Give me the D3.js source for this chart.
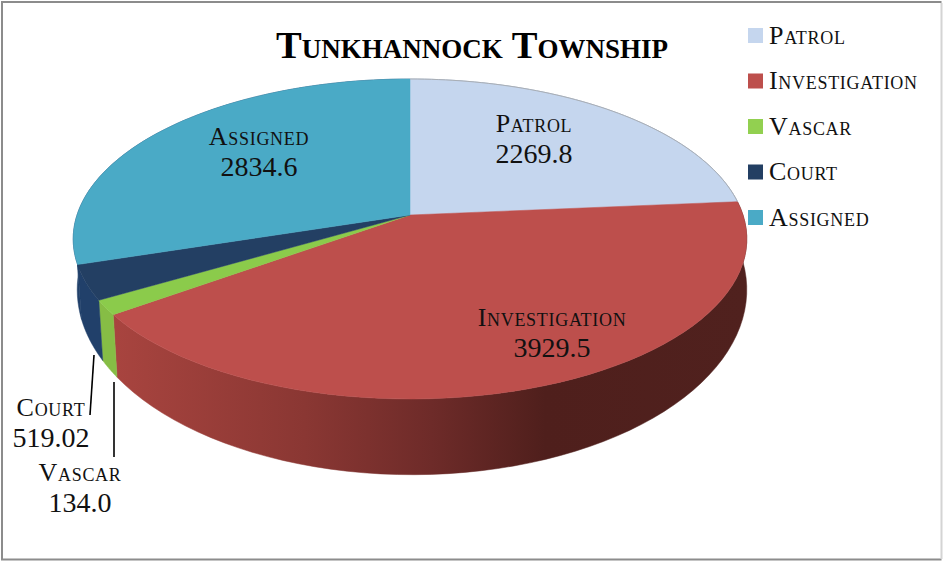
<!DOCTYPE html>
<html>
<head>
<meta charset="utf-8">
<script src="https://cdn.jsdelivr.net/npm/d3@7"></script>
<style>
  html, body { margin: 0; background: #fff; }
  text { font-family: "Liberation Serif", serif; font-variant: small-caps; fill: #111; }
</style>
</head>
<body>
<svg id="chart" width="943" height="561"></svg>
<script>
const title = "Tunkhannock Township";
const categories = ["Patrol", "Investigation", "Vascar", "Court", "Assigned"];
const valueLabels = ["2269.8", "3929.5", "134.0", "519.02", "2834.6"];
const values = valueLabels.map(Number);
const topColors = ["#c5d6ee", "#bd4f4c", "#8bcb4b", "#233f63", "#4aaac6"];
const legendColors = ["#c5d6ee", "#bd4f4c", "#92d050", "#233f63", "#4aaac6"];
const sideColors = ["#8f9cb0", "url(#redSide)", "#86bd45", "#21406a", "#21406a"];

// where the data labels sit: centre x, baseline of first line
const labelX = [534, 552, 80, 51, 259];
const labelY = [132, 326, 481, 416, 145];

const svg = d3.select("#chart");

const defs = svg.append("defs");
const grad = defs.append("linearGradient")
  .attr("id", "redSide")
  .attr("gradientUnits", "userSpaceOnUse")
  .attr("x1", 115).attr("x2", 748).attr("y1", 0).attr("y2", 0);
[[0, "#a8443f"], [0.3, "#8a3733"], [0.5, "#6e2b29"], [0.68, "#4f1f1c"], [1, "#50211e"]]
  .forEach(s => grad.append("stop").attr("offset", s[0]).attr("stop-color", s[1]));

// frame
svg.append("rect").attr("x", 0).attr("y", 0).attr("width", 943).attr("height", 561).attr("fill", "#fff");
svg.append("path").attr("d", "M941.5,2H2V559.5H941.5").attr("fill", "none").attr("stroke", "#8c8c8c").attr("stroke-width", 2);
svg.append("path").attr("d", "M941.5,3V559").attr("fill", "none").attr("stroke", "#d4d4d4").attr("stroke-width", 2);

// perspective: disc -> screen, nearer edge gets stretched
const persp = 0.15;
function project(rim, a) {
  const u = Math.sin(a), v = -Math.cos(a), w = 1 - persp * v;
  return [rim.x + rim.a * u / w, rim.y + rim.b * v / w];
}
const topRim = { x: 410, y: 215, a: 333, b: 156.4 };
const bottomRim = { x: 412, y: 262, a: 331, b: 180.8 };

// Excel's 3D view does not keep the angles exactly, this bends them back
const bend = d3.scaleLinear()
  .domain([0, 85, 230, 235, 255, 360].map(d => d * Math.PI / 180))
  .range([0, 85.7, 234, 239.5, 252.6, 360].map(d => d * Math.PI / 180));

const pie = d3.pie().sort(null).value(d => d);
const slices = pie(values).map((s, i) => ({
  i,
  a0: bend(s.startAngle),
  a1: bend(s.endAngle)
}));

const line = d3.line();
const arcPoints = (rim, a0, a1) => d3.range(0, 61).map(k => project(rim, a0 + (a1 - a0) * k / 60));

// sides first, tops go over them
svg.append("g").selectAll("path")
  .data(slices)
  .join("path")
  .attr("d", d => line(arcPoints(topRim, d.a0, d.a1).concat(arcPoints(bottomRim, d.a1, d.a0))) + "Z")
  .attr("fill", d => sideColors[d.i])
  .attr("stroke", d => sideColors[d.i])
  .attr("stroke-width", 0.5);

svg.append("g").selectAll("path")
  .data(slices)
  .join("path")
  .attr("d", d => line([[topRim.x, topRim.y]].concat(arcPoints(topRim, d.a0, d.a1))) + "Z")
  .attr("fill", d => topColors[d.i])
  .attr("stroke", d => topColors[d.i])
  .attr("stroke-width", 0.5);

// thin grey edge on the top rim
svg.append("path")
  .attr("d", line(arcPoints(topRim, bend(0), bend(pie(values)[0].endAngle))))
  .attr("fill", "none")
  .attr("stroke", "#a9aeb5")
  .attr("stroke-width", 1);

svg.append("text")
  .attr("x", 472)
  .attr("y", 58)
  .attr("text-anchor", "middle")
  .attr("font-size", 38.6)
  .attr("font-weight", "bold")
  .style("fill", "#000")
  .text(title);

// legend
const legendY = d3.scalePoint().domain(categories).range([35.5, 217.5]);
const legend = svg.append("g").selectAll("g")
  .data(categories)
  .join("g")
  .attr("transform", d => `translate(748, ${legendY(d)})`);
legend.append("rect")
  .attr("y", -7.5)
  .attr("width", 15)
  .attr("height", 15)
  .attr("fill", (d, i) => legendColors[i]);
legend.append("text")
  .attr("x", 21)
  .attr("y", 8)
  .attr("font-size", 26)
  .attr("letter-spacing", 0.7)
  .text(d => d);

// data labels
const labels = svg.append("g").selectAll("text")
  .data(categories)
  .join("text")
  .attr("text-anchor", "middle")
  .attr("font-size", 26);
labels.append("tspan")
  .attr("x", (d, i) => labelX[i])
  .attr("y", (d, i) => labelY[i])
  .attr("letter-spacing", 0.7)
  .text(d => d);
labels.append("tspan")
  .attr("x", (d, i) => labelX[i])
  .attr("y", (d, i) => labelY[i] + 31)
  .attr("font-size", 28)
  .text((d, i) => valueLabels[i]);

// leaders for the two small slices
svg.append("path").attr("d", "M94,355L90,415").attr("fill", "none").attr("stroke", "#000").attr("stroke-width", 1.6);
svg.append("path").attr("d", "M114,382V457").attr("fill", "none").attr("stroke", "#000").attr("stroke-width", 1.6);
</script>
</body>
</html>
